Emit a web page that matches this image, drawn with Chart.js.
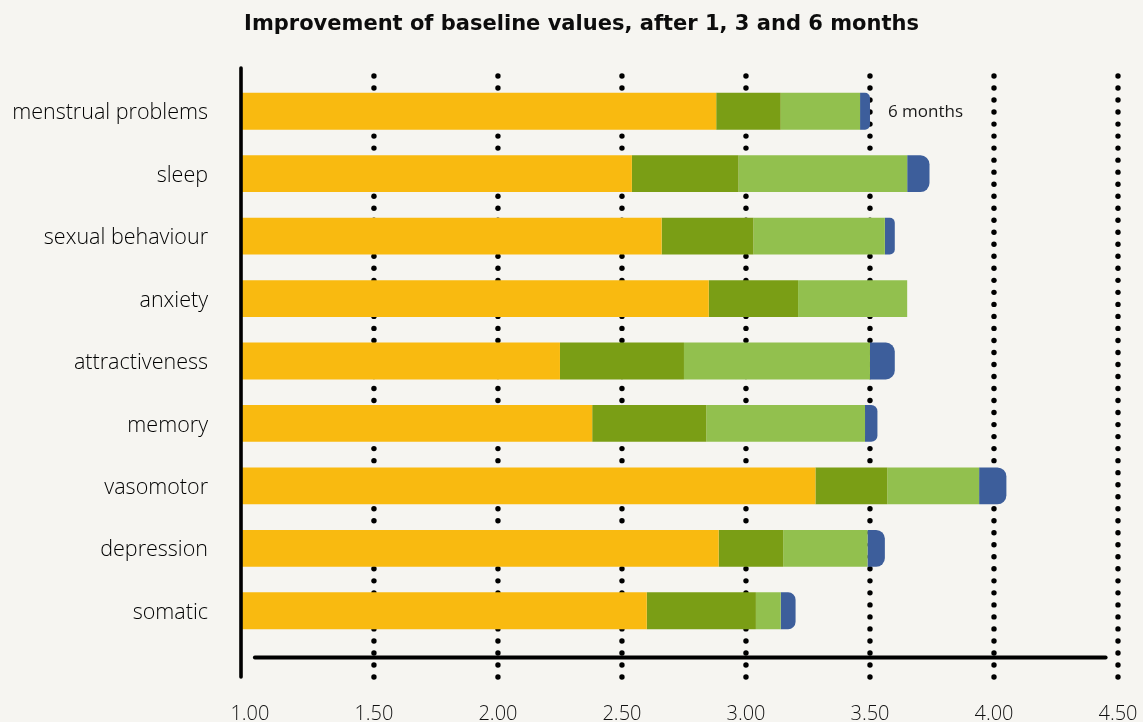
<!DOCTYPE html>
<html><head><meta charset="utf-8">
<script src="https://cdn.jsdelivr.net/npm/chart.js@4.4.1/dist/chart.umd.min.js"></script>
<style>
html,body{margin:0;padding:0;background:#F6F5F1;}
#wrap{width:1143px;height:722px;position:relative;}
</style>
</head><body>
<div id="wrap"><canvas id="c"></canvas></div>
<script>
const categories = ['menstrual problems','sleep','sexual behaviour','anxiety','attractiveness','memory','vasomotor','depression','somatic'];
const baseline = [2.88, 2.54, 2.66, 2.85, 2.25, 2.38, 3.28, 2.89, 2.60];
const after1   = [3.14, 2.97, 3.03, 3.21, 2.75, 2.84, 3.57, 3.15, 3.04];
const after3   = [3.46, 3.65, 3.56, 3.65, 3.50, 3.48, 3.94, 3.49, 3.14];
const after6   = [3.50, 3.74, 3.60, 3.65, 3.60, 3.53, 4.05, 3.56, 3.20];
const seriesNames = ['baseline', 'after 1 month', 'after 3 months', '6 months'];
const tickValues = [1.00, 1.50, 2.00, 2.50, 3.00, 3.50, 4.00, 4.50];
const titleText = 'Improvement of baseline values, after 1, 3 and 6 months';
const xMin = 0.968, xMax = 4.5;

const colors = ['#F9BA10', '#7A9E15', '#92C04E', '#3D5E9B'];
const labelFont = "'Open Sans', Lato, sans-serif";

const datasets = [
  { label: seriesNames[0], data: baseline.map(v => [xMin, v]), backgroundColor: colors[0] },
  { label: seriesNames[1], data: after1.map((v,i) => [baseline[i], v]), backgroundColor: colors[1] },
  { label: seriesNames[2], data: after3.map((v,i) => [after1[i], v]), backgroundColor: colors[2] },
  { label: seriesNames[3], data: after6.map((v,i) => v > after3[i] ? [after3[i], v] : null), backgroundColor: colors[3],
    borderSkipped: false, borderRadius: {topLeft:0, bottomLeft:0, topRight:9, bottomRight:9} }
].map(d => Object.assign({ grouped: false, categoryPercentage: 1, barPercentage: 0.59, borderWidth: 0 }, d));

const decor = {
  id: 'decor',
  beforeDatasetsDraw(chart) {
    const {ctx, chartArea, scales} = chart;
    const xs = scales.x;
    ctx.save();
    ctx.fillStyle = '#000';
    tickValues.forEach(v => {
      if (v <= 1) return;
      const x = xs.getPixelForValue(v);
      for (let y = chartArea.top - 4; y <= chartArea.bottom + 36; y += 12.02) {
        ctx.beginPath(); ctx.arc(x, y, 2.7, 0, Math.PI * 2); ctx.fill();
      }
    });
    ctx.restore();
  },
  afterDatasetsDraw(chart) {
    const {ctx, chartArea, scales} = chart;
    const xs = scales.x;
    ctx.save();
    ctx.strokeStyle = '#000';
    ctx.lineCap = 'round';
    ctx.lineWidth = 3.6;
    ctx.beginPath();
    ctx.moveTo(chartArea.left - 1, chartArea.top - 12);
    ctx.lineTo(chartArea.left - 1, chartArea.bottom + 35);
    ctx.stroke();
    ctx.lineWidth = 4;
    ctx.beginPath();
    ctx.moveTo(xs.getPixelForValue(1.02), chartArea.bottom + 15.5);
    ctx.lineTo(xs.getPixelForValue(4.45), chartArea.bottom + 15.5);
    ctx.stroke();
    const el = chart.getDatasetMeta(3).data[0];
    if (el) {
      ctx.fillStyle = '#1a1a1a';
      ctx.font = "17px " + labelFont;
      ctx.textAlign = 'left';
      ctx.textBaseline = 'middle';
      ctx.fillText(seriesNames[3], el.x + 18, el.y + 1);
    }
    ctx.fillStyle = '#0d0d0d';
    ctx.font = "bold 21px 'DejaVu Sans', sans-serif";
    ctx.textAlign = 'center';
    ctx.textBaseline = 'middle';
    ctx.fillText(titleText, chart.width / 2 + 10, 25);
    ctx.restore();
  }
};

new Chart(document.getElementById('c'), {
  type: 'bar',
  data: { labels: categories, datasets },
  plugins: [decor],
  options: {
    indexAxis: 'y',
    responsive: true,
    maintainAspectRatio: false,
    animation: false,
    layout: { padding: { left: 5, right: 25, top: 80, bottom: 0 } },
    plugins: {
      legend: { display: false },
      tooltip: { enabled: false },
      title: { display: false }
    },
    scales: {
      x: {
        type: 'linear',
        position: 'bottom',
        min: xMin, max: xMax,
        afterBuildTicks: s => { s.ticks = tickValues.map(v => ({ value: v })); },
        afterFit: s => { s.height = 80; s.paddingLeft = 0; s.paddingRight = 0; },
        grid: { display: false, drawTicks: false },
        border: { display: false },
        ticks: {
          padding: 60,
          color: '#111',
          font: { family: labelFont, size: 20, weight: '300' },
          callback: v => Number(v).toFixed(2)
        }
      },
      y: {
        type: 'category',
        offset: true,
        afterFit: s => { s.width = 237; s.paddingTop = 0; s.paddingBottom = 0; },
        grid: { display: false, drawTicks: false },
        border: { display: false },
        ticks: {
          padding: 34,
          labelOffset: 2,
          color: '#000',
          font: { family: labelFont, size: 21.5, weight: '300' }
        }
      }
    }
  }
});
</script>
</body></html>
